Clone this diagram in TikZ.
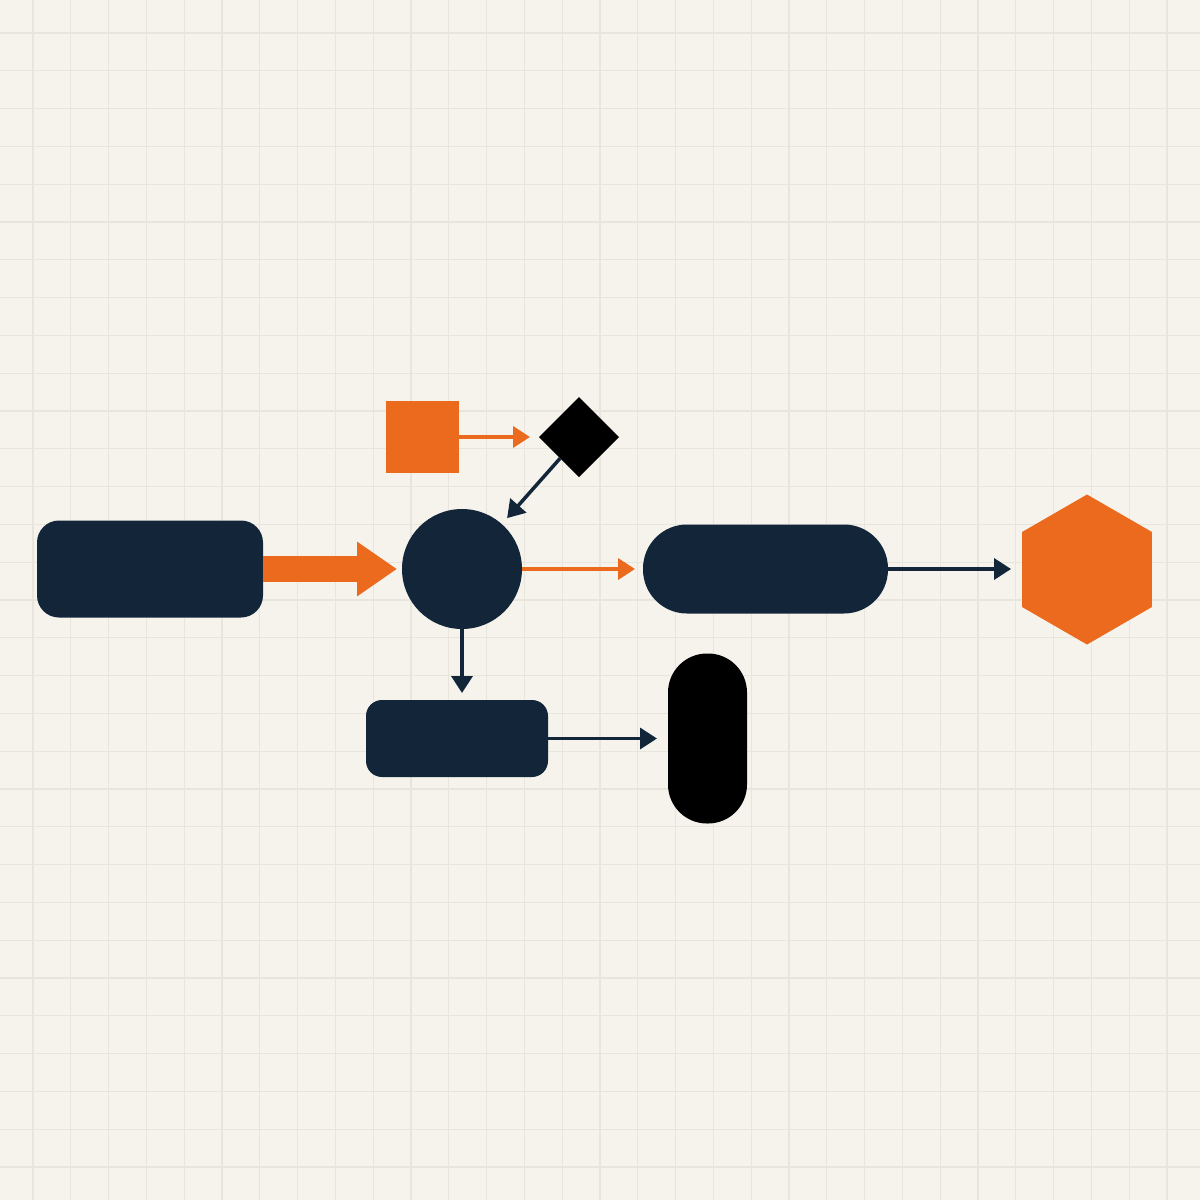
\documentclass[tikz,border=0pt]{standalone}
\usetikzlibrary{arrows.meta,shapes.geometric}
\definecolor{bg}{HTML}{F5F3EC}
\definecolor{gridc}{HTML}{E8E5DD}
\definecolor{navy}{HTML}{132639}
\definecolor{orng}{HTML}{EB6A1E}
\begin{document}
\begin{tikzpicture}[x=1pt,y=-1pt,
  shapebox/.style={draw=none,inner sep=0pt,outer sep=0pt},
  navyarrow/.style={draw=navy,line width=3.5pt,-{Triangle[length=17pt,width=21pt]}},
  orngarrow/.style={draw=orng,line width=3.5pt,-{Triangle[length=17pt,width=21pt]}},
  bigarrow/.style={draw=orng,line width=26pt,-{Triangle[length=40pt,width=52pt]}}]
\useasboundingbox (0,0) rectangle (1200,1200);
\fill[bg] (0,0) rectangle (1200,1200);
\foreach \k in {0,...,30}{
  \draw[gridc,line width=1.3pt] ({33+37.8*\k},0) -- ({33+37.8*\k},1200);
  \draw[gridc,line width=1.3pt] (0,{33+37.8*\k}) -- (1200,{33+37.8*\k});
}
% nodes
\node[shapebox,fill=navy,rectangle,rounded corners=22pt,minimum width=226pt,minimum height=97pt] (r1) at (150,569) {};
\node[shapebox,fill=navy,circle,minimum size=120pt] (c) at (462,569) {};
\node[shapebox,fill=navy,rectangle,rounded corners=44pt,minimum width=245pt,minimum height=89pt] (p1) at (765.5,569) {};
\node[shapebox,fill=orng,regular polygon,regular polygon sides=6,shape border rotate=30,minimum size=150pt] (hex) at (1087,569.5) {};
\node[shapebox,fill=orng,rectangle,minimum width=73pt,minimum height=72pt] (sq) at (422.5,437) {};
\node[shapebox,fill=black,diamond,aspect=1,minimum width=80pt,minimum height=80pt] (d) at (579,437) {};
\node[shapebox,fill=navy,rectangle,rounded corners=16pt,minimum width=182pt,minimum height=77pt] (r2) at (457,738.5) {};
\node[shapebox,fill=black,rectangle,rounded corners=39pt,minimum width=79pt,minimum height=170pt] (p2) at (707.5,738.5) {};
% connectors
\draw[bigarrow,shorten >=5pt] (r1.east) -- (c.west);
\draw[orngarrow,shorten >=8pt] (c.east) -- (p1.west);
\draw[navyarrow,shorten >=11pt] (p1.east) -- (p1.east -| hex.west);
\draw[orngarrow,shorten >=9pt] (sq.east) -- (d.west);
\draw[navyarrow,shorten >=8pt] (d) -- (c);
\draw[navyarrow,shorten >=7pt] (c.south) -- (r2.north -| c.south);
\draw[navyarrow,shorten >=11pt] (r2.east) -- (r2.east -| p2.west);
\end{tikzpicture}
\end{document}
